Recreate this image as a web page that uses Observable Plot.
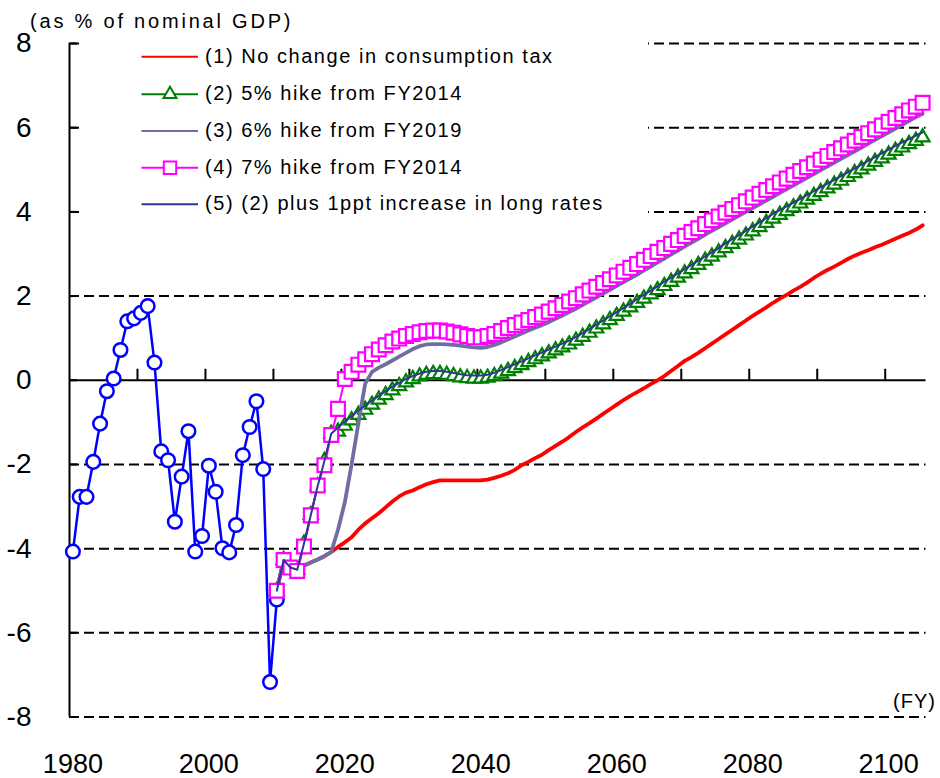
<!DOCTYPE html>
<html>
<head>
<meta charset="utf-8">
<script src="https://cdn.jsdelivr.net/npm/d3@7"></script>
<script src="https://cdn.jsdelivr.net/npm/@observablehq/plot@0.6"></script>
<style>
  html, body { margin: 0; padding: 0; background: #fff; }
  #chart { width: 940px; height: 778px; }
</style>
</head>
<body>
<div id="chart"></div>
<script>
// ---- data ----
const actualYears = d3.range(1980, 2011);
const actualValues = [-4.07, -2.77, -2.77, -1.94, -1.03, -0.26, 0.04, 0.72, 1.40, 1.47,
  1.60, 1.76, 0.42, -1.69, -1.90, -3.36, -2.29, -1.21, -4.07, -3.70,
  -2.03, -2.65, -3.99, -4.09, -3.44, -1.78, -1.11, -0.50, -2.11, -7.17,
  -5.21];

const projYears = d3.range(2010, 2106);

const s1NoChange = [-5.00, -4.27, -4.45, -4.50, -4.40, -4.33, -4.26, -4.18, -4.08, -3.96,
  -3.85, -3.73, -3.55, -3.40, -3.28, -3.16, -3.02, -2.88, -2.76, -2.67,
  -2.62, -2.54, -2.47, -2.42, -2.38, -2.38, -2.38, -2.38, -2.38, -2.38,
  -2.38, -2.36, -2.32, -2.27, -2.21, -2.13, -2.02, -1.94, -1.85, -1.77,
  -1.66, -1.56, -1.46, -1.35, -1.23, -1.12, -1.02, -0.91, -0.80, -0.69,
  -0.58, -0.47, -0.37, -0.28, -0.19, -0.09, 0.00, 0.10, 0.22, 0.34,
  0.46, 0.55, 0.65, 0.76, 0.87, 0.98, 1.09, 1.20, 1.31, 1.42,
  1.53, 1.63, 1.73, 1.84, 1.94, 2.03, 2.13, 2.22, 2.32, 2.43,
  2.53, 2.62, 2.70, 2.79, 2.88, 2.96, 3.03, 3.09, 3.16, 3.22,
  3.29, 3.36, 3.43, 3.50, 3.58, 3.68];

const s2Hike5 = [-5.00, -4.27, -4.45, -4.50, -3.88, -3.20, -2.52, -1.92, -1.27, -1.22,
  -1.08, -0.95, -0.82, -0.70, -0.58, -0.46, -0.35, -0.24, -0.14, -0.05,
  0.03, 0.09, 0.13, 0.15, 0.15, 0.13, 0.10, 0.07, 0.05, 0.04,
  0.04, 0.06, 0.10, 0.16, 0.22, 0.29, 0.36, 0.43, 0.50, 0.57,
  0.64, 0.71, 0.78, 0.85, 0.94, 1.03, 1.13, 1.23, 1.33, 1.43,
  1.53, 1.63, 1.73, 1.84, 1.94, 2.04, 2.14, 2.24, 2.34, 2.44,
  2.54, 2.64, 2.74, 2.84, 2.94, 3.04, 3.14, 3.24, 3.34, 3.44,
  3.54, 3.64, 3.74, 3.84, 3.93, 4.02, 4.11, 4.20, 4.29, 4.38,
  4.47, 4.56, 4.65, 4.74, 4.83, 4.92, 5.01, 5.10, 5.19, 5.27,
  5.36, 5.45, 5.53, 5.61, 5.69, 5.77];

const s3Hike6 = [-5.00, -4.27, -4.45, -4.50, -4.40, -4.33, -4.26, -4.18, -4.08, -3.55,
  -2.90, -2.00, -1.02, -0.08, 0.20, 0.30, 0.38, 0.47, 0.56, 0.65,
  0.74, 0.81, 0.85, 0.86, 0.86, 0.85, 0.84, 0.82, 0.80, 0.78,
  0.77, 0.79, 0.84, 0.90, 0.97, 1.04, 1.11, 1.18, 1.25, 1.31,
  1.38, 1.46, 1.54, 1.62, 1.70, 1.79, 1.88, 1.97, 2.06, 2.15,
  2.24, 2.33, 2.42, 2.51, 2.61, 2.70, 2.80, 2.89, 2.99, 3.08,
  3.18, 3.27, 3.36, 3.46, 3.55, 3.64, 3.73, 3.82, 3.91, 4.00,
  4.09, 4.18, 4.27, 4.36, 4.45, 4.54, 4.63, 4.72, 4.81, 4.90,
  4.99, 5.08, 5.17, 5.26, 5.35, 5.44, 5.53, 5.62, 5.71, 5.80,
  5.89, 5.98, 6.07, 6.16, 6.25, 6.33];

const s4Hike7 = [-5.00, -4.27, -4.45, -4.53, -3.95, -3.21, -2.50, -2.02, -1.30, -0.68,
  0.03, 0.20, 0.37, 0.50, 0.62, 0.73, 0.83, 0.92, 0.99, 1.05,
  1.10, 1.14, 1.17, 1.18, 1.18, 1.16, 1.13, 1.09, 1.05, 1.02,
  1.02, 1.05, 1.10, 1.17, 1.24, 1.31, 1.37, 1.43, 1.50, 1.56,
  1.63, 1.71, 1.79, 1.87, 1.95, 2.04, 2.13, 2.22, 2.31, 2.40,
  2.49, 2.58, 2.67, 2.76, 2.86, 2.95, 3.05, 3.14, 3.24, 3.33,
  3.43, 3.52, 3.61, 3.71, 3.80, 3.89, 3.98, 4.07, 4.16, 4.25,
  4.34, 4.43, 4.52, 4.61, 4.70, 4.79, 4.88, 4.97, 5.06, 5.15,
  5.24, 5.33, 5.42, 5.51, 5.60, 5.69, 5.78, 5.87, 5.96, 6.05,
  6.14, 6.23, 6.32, 6.41, 6.50, 6.59];

const s5LongRates = [-5.00, -4.27, -4.45, -4.50, -3.88, -3.20, -2.52, -1.92, -1.27, -1.12,
  -0.98, -0.85, -0.72, -0.60, -0.48, -0.37, -0.26, -0.15, -0.06, 0.03,
  0.10, 0.16, 0.20, 0.22, 0.22, 0.20, 0.17, 0.14, 0.12, 0.11,
  0.11, 0.13, 0.18, 0.24, 0.31, 0.38, 0.45, 0.52, 0.59, 0.66,
  0.73, 0.80, 0.87, 0.94, 1.03, 1.12, 1.22, 1.32, 1.42, 1.52,
  1.62, 1.72, 1.82, 1.93, 2.03, 2.13, 2.23, 2.34, 2.44, 2.54,
  2.64, 2.74, 2.84, 2.94, 3.04, 3.14, 3.25, 3.35, 3.45, 3.55,
  3.65, 3.75, 3.85, 3.95, 4.04, 4.13, 4.22, 4.31, 4.40, 4.49,
  4.58, 4.67, 4.76, 4.85, 4.94, 5.03, 5.12, 5.21, 5.30, 5.39,
  5.48, 5.57, 5.65, 5.73, 5.81, 5.89];

const seriesNames = [
  "(1) No change in consumption tax",
  "(2) 5% hike from FY2014",
  "(3) 6% hike from FY2019",
  "(4) 7% hike from FY2014",
  "(5) (2) plus 1ppt increase in long rates"
];
const seriesColors = ["#FF0000", "#008000", "#6E6EA2", "#FF00FF", "#333399"];
const actualColor = "#0000FF";

const xLabelYears = [1980, 2000, 2020, 2040, 2060, 2080, 2100];
const xTickYears = [1990, 2000, 2010, 2020, 2030, 2040, 2050, 2060, 2070, 2080, 2090, 2100];
const yTicks = [-8, -6, -4, -2, 0, 2, 4, 6, 8];
const yGrid = [-8, -6, -4, -2, 2, 4, 6, 8];
const xDomain = [1979.5, 2105.5];
const yDomain = [-8, 8];

const unitLabel = "(as % of nominal GDP)";
const xUnitLabel = "(FY)";

// ---- build tables ----
const actual = actualYears.map((year, i) => ({year, value: actualValues[i]}));
const mk = arr => projYears.map((year, i) => ({year, value: arr[i]}));
const d1 = mk(s1NoChange), d2 = mk(s2Hike5), d3s = mk(s3Hike6), d4 = mk(s4Hike7), d5 = mk(s5LongRates);

const W = 940, H = 778;
const mL = 69, mR = 14.5, mT = 43, mB = 61.5;
const frameW = W - mL - mR, frameH = H - mT - mB;
const zeroPx = mT + frameH * (yDomain[1] - 0) / (yDomain[1] - yDomain[0]);

const chart = Plot.plot({
  width: W, height: H,
  marginLeft: mL, marginRight: mR, marginTop: mT, marginBottom: mB,
  x: {domain: xDomain},
  y: {domain: yDomain},
  style: {fontFamily: "'Liberation Sans', Arial, sans-serif", background: "white", color: "black"},
  marks: [
    Plot.ruleY(yGrid, {stroke: "black", strokeWidth: 2, strokeDasharray: "10,5"}),
    Plot.ruleY([0], {stroke: "black", strokeWidth: 2}),
    Plot.ruleX([xDomain[0]], {stroke: "black", strokeWidth: 2}),
    Plot.tickY(yTicks, {y: d => d, stroke: "black", strokeWidth: 2, insetRight: frameW - 8}),
    Plot.tickX(xTickYears, {x: d => d - 0.5, stroke: "black", strokeWidth: 2,
      insetTop: zeroPx - mT - 11, insetBottom: mT + frameH - zeroPx}),
    Plot.axisY({ticks: yTicks, tickSize: 0, tickPadding: 38, fontSize: 28, tickFormat: d => String(d), label: null}),
    Plot.axisX({ticks: xLabelYears, tickSize: 0, tickPadding: 37, fontSize: 27, tickFormat: d => String(d), label: null}),
    // actual
    Plot.line(actual, {x: "year", y: "value", stroke: actualColor, strokeWidth: 2.5}),
    Plot.dot(actual, {x: "year", y: "value", r: 6.8, stroke: actualColor, strokeWidth: 2.5, fill: "white"}),
    // (1)
    Plot.line(d1, {x: "year", y: "value", stroke: seriesColors[0], strokeWidth: 3.8}),
    // (2)
    Plot.line(d2, {x: "year", y: "value", stroke: seriesColors[1], strokeWidth: 2}),
    Plot.dot(d2, {x: "year", y: "value", symbol: "triangle", r: 5.2, stroke: seriesColors[1], strokeWidth: 2.2, fill: "white"}),
    // (3)
    Plot.line(d3s, {x: "year", y: "value", stroke: seriesColors[2], strokeWidth: 3.8}),
    // (4)
    Plot.line(d4, {x: "year", y: "value", stroke: seriesColors[3], strokeWidth: 2}),
    Plot.dot(d4, {x: "year", y: "value", symbol: "square", r: 7.8, stroke: seriesColors[3], strokeWidth: 2.2, fill: "white"}),
    // (5)
    Plot.line(d5, {x: "year", y: "value", stroke: seriesColors[4], strokeWidth: 2})
  ]
});

// ---- legend box, legend, unit labels ----
const svg = d3.select(chart);
const font = "'Liberation Sans', Arial, sans-serif";
svg.append("rect").attr("x", 80).attr("y", 36).attr("width", 568).attr("height", 184).attr("fill", "white");

const legendY = [56.7, 94.3, 131, 167.7, 204.3];
const lg = svg.append("g").attr("text-anchor", "start");
seriesNames.forEach((name, i) => {
  const cy = legendY[i];
  lg.append("line").attr("x1", 141.5).attr("x2", 198).attr("y1", cy).attr("y2", cy)
    .attr("stroke", seriesColors[i]).attr("stroke-width", 2);
  if (i === 1) {
    lg.append("path").attr("d", d3.symbol(d3.symbolTriangle, Math.PI * 4.8 * 4.8)())
      .attr("transform", `translate(170,${cy})`).attr("fill", "white")
      .attr("stroke", seriesColors[i]).attr("stroke-width", 2);
  }
  if (i === 3) {
    lg.append("path").attr("d", d3.symbol(d3.symbolSquare, Math.PI * 7 * 7)())
      .attr("transform", `translate(170,${cy})`).attr("fill", "white")
      .attr("stroke", seriesColors[i]).attr("stroke-width", 2);
  }
  lg.append("text").attr("x", 205).attr("y", cy + 6).attr("text-anchor", "start")
    .attr("font-family", font).attr("font-size", 20).attr("letter-spacing", "1.55px")
    .attr("fill", "black").text(name);
});

svg.append("text").attr("x", 30).attr("y", 28).attr("text-anchor", "start")
  .attr("font-family", font).attr("font-size", 20).attr("letter-spacing", "2.8px")
  .attr("fill", "black").text(unitLabel);

svg.append("text").attr("x", 936).attr("y", 708).attr("text-anchor", "end")
  .attr("font-family", font).attr("font-size", 20).attr("letter-spacing", "1px")
  .attr("fill", "black").text(xUnitLabel);

document.getElementById("chart").appendChild(chart);
</script>
</body>
</html>
